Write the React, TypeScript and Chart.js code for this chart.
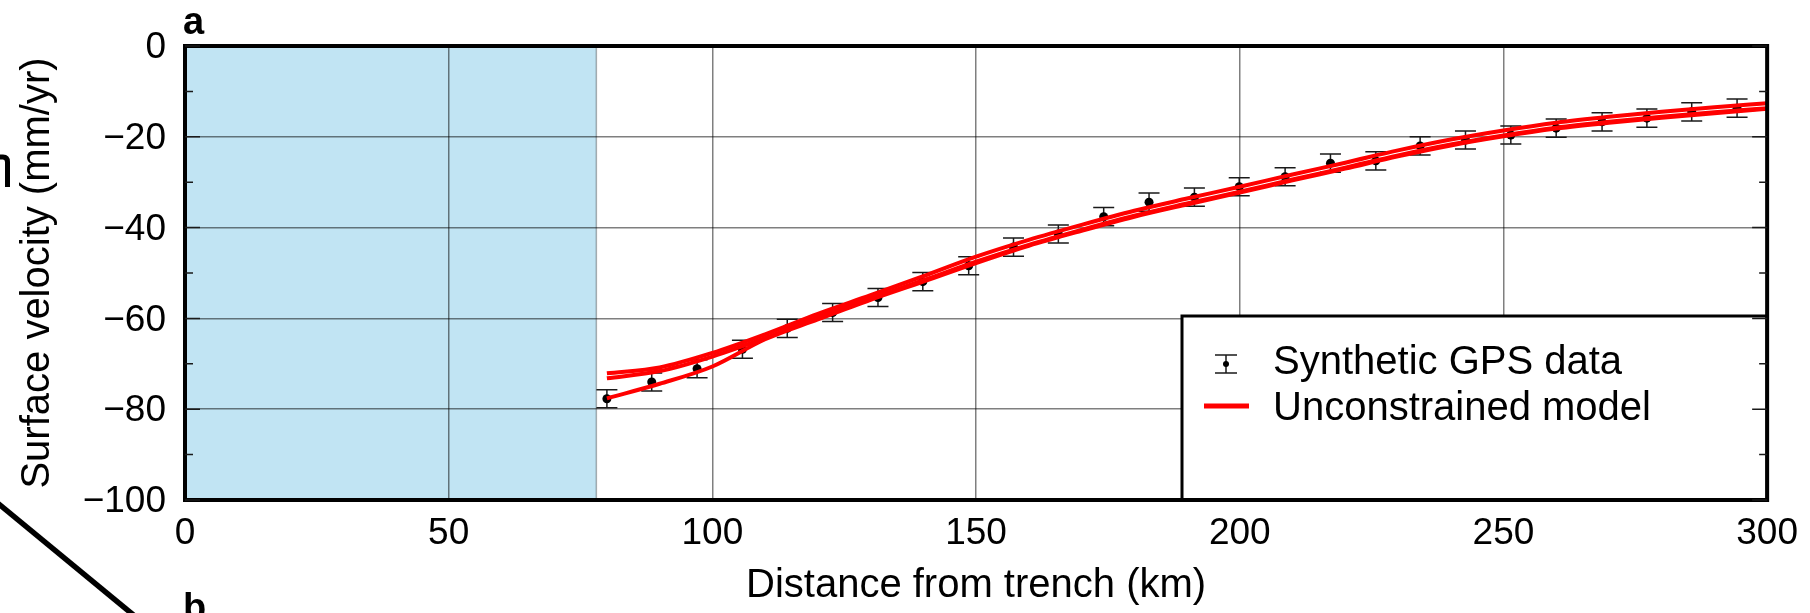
import React, { useEffect, useRef } from 'react';
import { Chart, registerables } from 'chart.js';

Chart.register(...registerables);

// ---- data ----
const xTickValues = [0, 50, 100, 150, 200, 250, 300];
const yTickValues = [0, -20, -40, -60, -80, -100];
const yMinorTickValues = [-10, -30, -50, -70, -90];

const gpsDistance = [80.0, 88.5, 97.1, 105.7, 114.2, 122.8, 131.4, 139.9, 148.6, 157.1, 165.6, 174.2, 182.8,
  191.4, 199.9, 208.6, 217.2, 225.8, 234.2, 242.8, 251.4, 260.0, 268.7, 277.2, 285.7, 294.3];
const gpsVelocity = [-77.7, -74.0, -71.1, -66.8, -62.2, -58.7, -55.4, -51.9, -48.4, -44.3, -41.4, -37.6, -34.4,
  -33.3, -31.0, -28.8, -25.8, -25.3, -22.0, -20.7, -19.6, -18.1, -16.7, -15.9, -14.5, -13.7];
const gpsError = [2, 2, 2, 2, 2, 2, 2, 2, 2, 2, 2, 2, 2, 2, 2, 2, 2, 2, 2, 2, 2, 2, 2, 2, 2, 2];

const modelDistance = [80, 90, 100, 110, 120, 130, 140, 150, 160, 170, 180, 190, 200, 210, 220, 230, 240, 250,
  260, 270, 280, 290, 300];
const modelA = [-72.1, -70.8, -67.6, -63.5, -59.0, -54.9, -50.7, -46.4, -42.7, -39.4, -36.3, -33.6, -31.0, -28.3,
  -25.7, -23.0, -20.6, -18.6, -16.9, -15.6, -14.5, -13.5, -12.6];
const modelB = [-73.2, -71.6, -68.4, -64.3, -59.7, -55.6, -51.6, -47.5, -43.8, -40.5, -37.4, -34.7, -32.1, -29.4,
  -26.8, -24.1, -21.7, -19.7, -18.0, -16.7, -15.6, -14.6, -13.7];
const modelC = [-77.6, -74.4, -70.6, -64.6, -60.2, -55.9, -51.9, -47.8, -44.0, -40.7, -37.6, -34.9, -32.3, -29.6,
  -27.0, -24.3, -21.9, -19.9, -18.2, -16.9, -15.8, -14.8, -13.8];

const shadedRange = [0, 78];
const gpsLabel = 'Synthetic GPS data';
const modelLabel = 'Unconstrained model';
const xTitle = 'Distance from trench (km)';
const yTitle = 'Surface velocity (mm/yr)';
const panelLabel = 'a';
const nextPanelLabel = 'b';

const FONT = "'Liberation Sans', Arial, Helvetica, sans-serif";

const fmtTick = (v: number) => (v === 0 ? '0' : (v < 0 ? '\u2212' : '') + Math.abs(v));

const decorPlugin = {
  id: 'decor',
  beforeDraw(chart: any) {
    const { ctx, chartArea: ca, scales } = chart;
    const xs = scales.x;
    const x0 = xs.getPixelForValue(shadedRange[0]);
    const x1 = xs.getPixelForValue(shadedRange[1]);
    ctx.save();
    ctx.fillStyle = '#c1e4f3';
    ctx.fillRect(x0, ca.top, x1 - x0, ca.bottom - ca.top);
    ctx.strokeStyle = 'rgba(0,0,0,0.3)';
    ctx.lineWidth = 1.5;
    ctx.beginPath();
    ctx.moveTo(x1, ca.top);
    ctx.lineTo(x1, ca.bottom);
    ctx.stroke();
    ctx.restore();
  },
  beforeDatasetsDraw(chart: any) {
    const { ctx, scales } = chart;
    const xs = scales.x, ys = scales.y;
    ctx.save();
    ctx.strokeStyle = '#1a1a1a';
    ctx.lineWidth = 1.5;
    for (let i = 0; i < gpsDistance.length; i++) {
      const px = xs.getPixelForValue(gpsDistance[i]);
      const top = ys.getPixelForValue(gpsVelocity[i] + gpsError[i]);
      const bot = ys.getPixelForValue(gpsVelocity[i] - gpsError[i]);
      ctx.beginPath();
      ctx.moveTo(px, top); ctx.lineTo(px, bot);
      ctx.moveTo(px - 10.5, top); ctx.lineTo(px + 10.5, top);
      ctx.moveTo(px - 10.5, bot); ctx.lineTo(px + 10.5, bot);
      ctx.stroke();
    }
    ctx.restore();
  },
  afterDatasetsDraw(chart: any) {
    const { ctx, chartArea: ca, scales } = chart;
    const ys = scales.y;
    ctx.save();
    // legend box
    const lx = ca.left + 997;
    const ly = ca.top + 270;
    ctx.fillStyle = '#fff';
    ctx.fillRect(lx, ly, ca.right - lx, ca.bottom - ly);
    ctx.strokeStyle = '#000';
    ctx.lineWidth = 3;
    ctx.strokeRect(lx, ly, ca.right - lx, ca.bottom - ly);
    // legend symbol: error bar
    const sx = lx + 44, sy = ly + 48;
    ctx.strokeStyle = '#1a1a1a';
    ctx.lineWidth = 1.5;
    ctx.beginPath();
    ctx.moveTo(sx, sy - 9); ctx.lineTo(sx, sy + 9);
    ctx.moveTo(sx - 11, sy - 9); ctx.lineTo(sx + 11, sy - 9);
    ctx.moveTo(sx - 11, sy + 9); ctx.lineTo(sx + 11, sy + 9);
    ctx.stroke();
    ctx.fillStyle = '#000';
    ctx.beginPath(); ctx.arc(sx, sy, 3, 0, Math.PI * 2); ctx.fill();
    // legend symbol: red line
    ctx.strokeStyle = '#ff0000';
    ctx.lineWidth = 5;
    ctx.beginPath();
    ctx.moveTo(lx + 22, ly + 90); ctx.lineTo(lx + 67, ly + 90);
    ctx.stroke();
    // legend text
    ctx.fillStyle = '#000';
    ctx.font = `40px ${FONT}`;
    ctx.textAlign = 'left';
    ctx.textBaseline = 'alphabetic';
    ctx.fillText(gpsLabel, lx + 91, ly + 58);
    ctx.fillText(modelLabel, lx + 91, ly + 104);

    // frame
    ctx.strokeStyle = '#000';
    ctx.lineWidth = 4;
    ctx.strokeRect(ca.left, ca.top, ca.right - ca.left, ca.bottom - ca.top);

    // inward ticks on left/right
    ctx.strokeStyle = '#1a1a1a';
    ctx.lineWidth = 1.5;
    const ticks = [...yTickValues.map((v) => [v, 15]), ...yMinorTickValues.map((v) => [v, 8])];
    ctx.beginPath();
    for (const [v, len] of ticks) {
      const py = ys.getPixelForValue(v);
      ctx.moveTo(ca.left, py); ctx.lineTo(ca.left + len, py);
      ctx.moveTo(ca.right, py); ctx.lineTo(ca.right - len, py);
    }
    ctx.stroke();

    // panel labels
    ctx.fillStyle = '#000';
    ctx.font = `bold 38px ${FONT}`;
    ctx.fillText(panelLabel, ca.left - 2, 34);
    ctx.fillText(nextPanelLabel, ca.left - 2, 620);

    // stray strokes from neighbouring figure parts
    ctx.strokeStyle = '#000';
    ctx.lineWidth = 5.5;
    ctx.lineCap = 'butt';
    ctx.beginPath();
    ctx.moveTo(-10, 496.8);
    ctx.lineTo(140, 620.4);
    ctx.stroke();
    ctx.lineWidth = 5;
    ctx.beginPath();
    ctx.moveTo(-3, 157);
    ctx.lineTo(3, 157);
    ctx.quadraticCurveTo(7.5, 157, 7.5, 162);
    ctx.lineTo(7.5, 187);
    ctx.stroke();
    ctx.restore();
  },
};

export default function App() {
  const canvasRef = useRef<HTMLCanvasElement | null>(null);

  useEffect(() => {
    const canvas = canvasRef.current;
    if (!canvas) return;
    const gridOpts = {
      display: true,
      color: 'rgba(0,0,0,0.5)',
      lineWidth: 1.5,
      drawTicks: false,
    };
    const lineDs = (vals: number[]) => ({
      label: modelLabel,
      data: modelDistance.map((x, i) => ({ x, y: vals[i] })),
      showLine: true,
      borderColor: '#ff0000',
      backgroundColor: '#ff0000',
      borderWidth: 4,
      pointRadius: 0,
      pointHoverRadius: 0,
      cubicInterpolationMode: 'monotone' as const,
      fill: false,
      order: 0,
    });
    const chart = new Chart(canvas, {
      type: 'scatter',
      data: {
        datasets: [
          lineDs(modelA),
          lineDs(modelB),
          lineDs(modelC),
          {
            label: gpsLabel,
            data: gpsDistance.map((x, i) => ({ x, y: gpsVelocity[i] })),
            showLine: false,
            pointRadius: 4.5,
            pointHoverRadius: 4.5,
            backgroundColor: '#000',
            borderColor: '#000',
            borderWidth: 0,
            order: 5,
          },
        ],
      },
      options: {
        animation: false,
        responsive: false,
        devicePixelRatio: 1,
        events: [],
        layout: { padding: { top: 46, right: 41, left: 0, bottom: 0 } },
        plugins: { legend: { display: false }, tooltip: { enabled: false } },
        scales: {
          x: {
            type: 'linear',
            min: 0,
            max: 300,
            afterBuildTicks: (s: any) => {
              s.ticks = xTickValues.map((v) => ({ value: v }));
            },
            afterFit: (s: any) => {
              s.height = 113;
            },
            grid: gridOpts,
            border: { display: false },
            ticks: {
              color: '#000',
              font: { family: FONT, size: 37, lineHeight: 1.2 },
              padding: 12,
              maxRotation: 0,
              autoSkip: false,
              callback: (v: any) => fmtTick(Number(v)),
            },
            title: {
              display: true,
              text: xTitle,
              color: '#000',
              font: { family: FONT, size: 40, lineHeight: 1.2 },
              padding: { top: 0, bottom: 3 },
            },
          },
          y: {
            type: 'linear',
            min: -100,
            max: 0,
            afterBuildTicks: (s: any) => {
              s.ticks = yTickValues.map((v) => ({ value: v }));
            },
            afterFit: (s: any) => {
              s.width = 185;
            },
            grid: gridOpts,
            border: { display: false },
            ticks: {
              color: '#000',
              font: { family: FONT, size: 37, lineHeight: 1.2 },
              padding: 19,
              labelOffset: 2,
              autoSkip: false,
              callback: (v: any) => fmtTick(Number(v)),
            },
            title: {
              display: true,
              text: yTitle,
              color: '#000',
              font: { family: FONT, size: 40, lineHeight: 1.2 },
              padding: { top: 13.5, bottom: 0 },
            },
          },
        },
      },
      plugins: [decorPlugin],
    } as any);
    return () => chart.destroy();
  }, []);

  return (
    <div style={{ position: 'absolute', left: 0, top: 0, width: 1810, height: 613, background: '#fff' }}>
      <canvas ref={canvasRef} width={1810} height={613} style={{ display: 'block', width: 1810, height: 613 }} />
    </div>
  );
}
